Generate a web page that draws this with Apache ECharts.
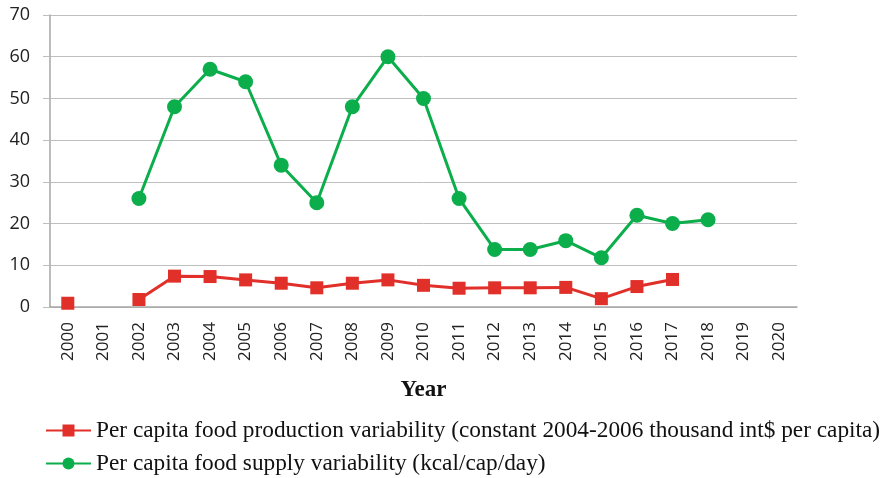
<!DOCTYPE html>
<html><head><meta charset="utf-8">
<script src="https://cdn.jsdelivr.net/npm/echarts@6/dist/echarts.min.js"></script>
<style>html,body{margin:0;padding:0;background:#fff}#c{width:889px;height:478px}</style>
</head><body><div id="c"></div>
<script>
const years = ['2000','2001','2002','2003','2004','2005','2006','2007','2008','2009','2010','2011','2012','2013','2014','2015','2016','2017','2018','2019','2020'];
const productionVar = [0.9, null, 1.8, 7.4, 7.3, 6.5, 5.7, 4.6, 5.7, 6.5, 5.2, 4.5, 4.6, 4.6, 4.7, 2.0, 4.9, 6.6, null, null, null];
const supplyVar = [null, null, 26, 48, 57, 54, 34, 25, 48, 60, 50, 26, 13.8, 13.8, 15.9, 11.8, 22, 20, 20.9, null, null];
const yTicks = [0, 10, 20, 30, 40, 50, 60, 70];
const seriesNames = ['Per capita food production variability (constant 2004-2006 thousand int$ per capita)', 'Per capita food supply variability (kcal/cap/day)'];

const legendText = {fontFamily: 'Liberation Serif', fontSize: 23.3, color: '#111'};
const chart = echarts.init(document.getElementById('c'));
chart.setOption({
  animation: false,
  grid: {left: 50, right: 92, top: 15, bottom: 171},
  xAxis: {
    type: 'category', data: years, boundaryGap: true,
    name: 'Year', nameLocation: 'middle', nameGap: 72,
    nameTextStyle: {fontFamily: 'Liberation Serif', fontWeight: 'bold', fontSize: 23, color: '#111'},
    axisLine: {lineStyle: {color: '#a6a6a6', width: 1.5}},
    axisTick: {show: false},
    axisLabel: {rotate: 90, fontSize: 17, color: '#222', fontFamily: 'Open Sans', margin: 15}
  },
  yAxis: {
    type: 'value', min: yTicks[0], max: yTicks[yTicks.length-1], interval: 10,
    axisLine: {show: true, lineStyle: {color: '#a6a6a6', width: 1.5}},
    axisTick: {show: true, length: 7, lineStyle: {color: '#bfbfbf'}},
    splitLine: {lineStyle: {color: '#bfbfbf', width: 1}},
    axisLabel: {fontSize: 18, color: '#222', fontFamily: 'Open Sans', margin: 20}
  },
  legend: [
    {left: 45, top: 419, padding: 0, itemWidth: 45, itemHeight: 15, textStyle: legendText, data: [seriesNames[0]]},
    {left: 45, top: 452, padding: 0, itemWidth: 45, itemHeight: 15, textStyle: legendText, data: [seriesNames[1]]}
  ],
  series: [
    {name: seriesNames[0], type: 'line', data: productionVar, connectNulls: false,
     symbol: 'rect', symbolSize: 13, itemStyle: {color: '#e1302a'}, lineStyle: {width: 3, color: '#e1302a'}},
    {name: seriesNames[1], type: 'line', data: supplyVar, connectNulls: false,
     symbol: 'circle', symbolSize: 15, itemStyle: {color: '#0cae4c'}, lineStyle: {width: 3, color: '#0cae4c'}}
  ]
});
</script></body></html>
